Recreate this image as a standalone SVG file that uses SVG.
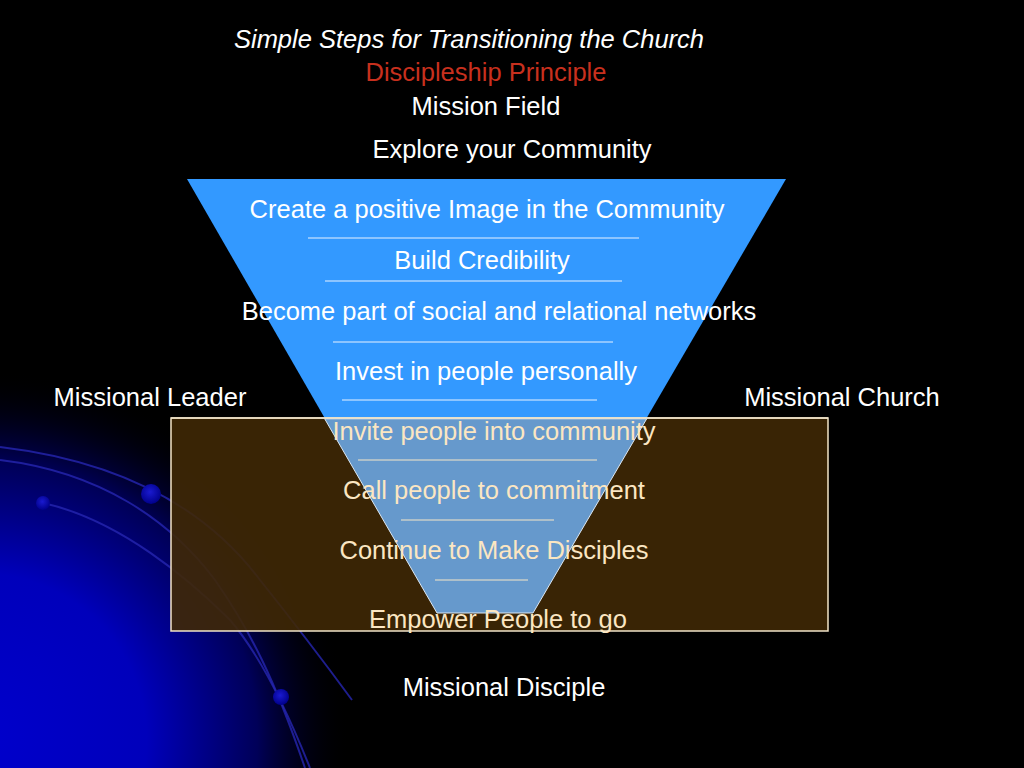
<svg xmlns="http://www.w3.org/2000/svg" width="1024" height="768" viewBox="0 0 1024 768">
  <defs>
    <radialGradient id="glow" cx="-20" cy="740" r="370" gradientUnits="userSpaceOnUse">
      <stop offset="0" stop-color="#0000cc"/>
      <stop offset="0.45" stop-color="#0000bb"/>
      <stop offset="0.75" stop-color="#000058"/>
      <stop offset="1" stop-color="#000000" stop-opacity="0"/>
    </radialGradient>
    <radialGradient id="dot" cx="0.45" cy="0.4" r="0.6">
      <stop offset="0" stop-color="#1a1ad0"/>
      <stop offset="1" stop-color="#00008a"/>
    </radialGradient>
    <clipPath id="boxclip">
      <rect x="171" y="418" width="657" height="213"/>
    </clipPath>
    <style>
      text { font-family: "Liberation Sans", Arial, sans-serif; font-size: 25.5px; text-anchor: middle; }
      .w { fill: #ffffff; }
      .c { fill: #fbe6c2; }
      .sepw { stroke: #e8f2ff; stroke-width: 1.2; }
      .sepc { stroke: #f6e7c8; stroke-width: 1.2; }
      .curve { fill: none; stroke: #2626b0; stroke-width: 2; opacity: 0.8; }
    </style>
  </defs>

  <rect x="0" y="0" width="1024" height="768" fill="#000000"/>
  <rect x="0" y="360" width="420" height="408" fill="url(#glow)"/>

  <g id="decoration">
    <path class="curve" d="M0,447 C110,460 200,500 260,580 C300,630 330,670 352,700"/>
    <path class="curve" d="M0,460 C100,472 170,520 215,580 C250,630 275,680 305,768"/>
    <path class="curve" d="M43,503 C120,520 190,580 230,620 C260,655 285,705 310,768"/>
    <circle cx="151" cy="494" r="10" fill="url(#dot)"/>
    <circle cx="43" cy="503" r="7" fill="url(#dot)"/>
    <circle cx="281" cy="697" r="8" fill="url(#dot)"/>
  </g>

  <g id="funnel">
    <polygon points="187,179 786,179 533,613 437,613" fill="#3399ff"/>
  </g>

  <g id="box">
    <rect x="171" y="418" width="657" height="213" fill="#3f2806" fill-opacity="0.9" stroke="#f2e4c8" stroke-width="1.5"/>
    <g clip-path="url(#boxclip)">
      <polygon points="324.7,418.8 646.7,418.8 533,613 437,613" fill="#6699cc" stroke="#dce8f4" stroke-width="1"/>
    </g>
    <line x1="171" y1="418" x2="828" y2="418" stroke="#f2e4c8" stroke-width="1.5"/>
  </g>

  <g id="connectors">
    <line class="sepw" x1="308" y1="238" x2="639" y2="238"/>
    <line class="sepw" x1="325" y1="281" x2="622" y2="281"/>
    <line class="sepw" x1="333" y1="342" x2="613" y2="342"/>
    <line class="sepw" x1="342" y1="400" x2="597" y2="400"/>
    <line class="sepc" x1="358" y1="460" x2="597" y2="460"/>
    <line class="sepc" x1="401" y1="520" x2="554" y2="520"/>
    <line class="sepc" x1="435" y1="580" x2="528" y2="580"/>
  </g>

  <g id="titles">
    <text x="469" y="48" class="w" font-style="italic">Simple Steps for Transitioning the Church</text>
    <text x="486" y="81" fill="#c8301e">Discipleship Principle</text>
    <text x="486" y="115" class="w">Mission Field</text>
    <text x="512" y="158" class="w">Explore your Community</text>
  </g>

  <g id="step-create"><text x="487" y="218" class="w">Create a positive Image in the Community</text></g>
  <g id="step-build"><text x="482" y="269" class="w">Build Credibility</text></g>
  <g id="step-become"><text x="499" y="320" class="w">Become part of social and relational networks</text></g>
  <g id="step-invest"><text x="486" y="380" class="w">Invest in people personally</text></g>
  <g id="step-invite"><text x="494" y="440" class="c">Invite people into community</text></g>
  <g id="step-call"><text x="494" y="499" class="c">Call people to commitment</text></g>
  <g id="step-continue"><text x="494" y="559" class="c">Continue to Make Disciples</text></g>
  <g id="step-empower"><text x="498" y="628" class="c">Empower People to go</text></g>

  <g id="leader"><text x="150" y="406" class="w">Missional Leader</text></g>
  <g id="church"><text x="842" y="406" class="w">Missional Church</text></g>
  <g id="disciple"><text x="504" y="696" class="w">Missional Disciple</text></g>
</svg>
